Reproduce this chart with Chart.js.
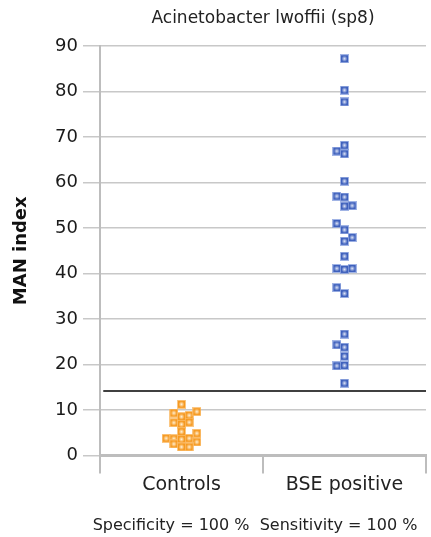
<!DOCTYPE html>
<html>
<head>
<meta charset="utf-8">
<script src="https://cdn.jsdelivr.net/npm/chart.js@4"></script>
<style>
  body { margin: 0; background: #fff; }
  canvas { display: block; }
</style>
</head>
<body>
<canvas id="chart" width="431" height="537"></canvas>
<script>
const categories = ["Controls", "BSE positive"];

// MAN index per animal, and the swarm column each dot sits in
const controlsValues = [11.25, 9.34, 8.53, 8.83, 9.63, 7.21, 6.86, 7.3, 5.23, 4.88, 3.78, 3.69, 3.56, 3.78, 2.97, 2.53, 1.87, 1.87];
const controlsCols = [0, -1, 0, 1, 2, -1, 0, 1, 0, 2, -2, -1, 0, 1, 2, -1, 0, 1];

const bseValues = [87.2, 80.3, 77.7, 68.2, 66.9, 66.3, 60.3, 57.0, 56.8, 54.8, 54.9, 51.0, 49.6, 47.9, 47.1, 43.8, 41.1, 40.9, 41.1, 36.9, 35.6, 26.7, 24.3, 23.8, 21.8, 19.7, 19.8, 15.9];
const bseCols = [0, 0, 0, 0, -1, 0, 0, -1, 0, 0, 1, -1, 0, 1, 0, 0, -1, 0, 1, -1, 0, 0, -1, 0, 0, -1, 0, 0];

const cutoff = 14.2;
const yMin = 0, yMax = 90, yStep = 10;
const footnote = "Specificity = 100 %  Sensitivity = 100 %";

const COL_STEP = 0.047;
const FONT = "'DejaVu Sans', sans-serif";

function toPoints(values, cols, catIndex) {
  return values.map((v, i) => ({ x: catIndex + cols[i] * COL_STEP, y: v }));
}

// small square marker with a lighter centre, like the original
function makeMarker(halo, core, light) {
  const c = document.createElement("canvas");
  c.width = 9;
  c.height = 9;
  const g = c.getContext("2d");
  g.fillStyle = halo;
  g.fillRect(0, 0, 9, 9);
  g.fillStyle = core;
  g.fillRect(1, 1, 7, 7);
  const grad = g.createRadialGradient(4.5, 4.5, 0, 4.5, 4.5, 3);
  grad.addColorStop(0, light);
  grad.addColorStop(1, core);
  g.fillStyle = grad;
  g.fillRect(2, 2, 5, 5);
  return c;
}

const orangeMarker = makeMarker("rgba(250,185,100,0.8)", "#f69a22", "#fff3dc");
const blueMarker = makeMarker("rgba(130,155,220,0.75)", "#3f61bd", "#e2e8f8");

const footnotePlugin = {
  id: "footnote",
  afterDraw(chart) {
    const ctx = chart.ctx;
    ctx.save();
    ctx.font = "16px " + FONT;
    ctx.fillStyle = "#222";
    ctx.textAlign = "center";
    ctx.textBaseline = "middle";
    ctx.fillText(footnote, 255, 526);
    ctx.restore();
  },
};

const ctx = document.getElementById("chart").getContext("2d");
new Chart(ctx, {
  type: "scatter",
  data: {
    datasets: [
      {
        label: "cutoff",
        data: [{ x: -0.48, y: cutoff }, { x: 1.5, y: cutoff }],
        showLine: true,
        borderColor: "#000",
        borderWidth: 1.5,
        pointRadius: 0,
        xAxisID: "x",
        yAxisID: "y",
      },
      {
        label: categories[0],
        data: toPoints(controlsValues, controlsCols, 0),
        pointStyle: orangeMarker,
        xAxisID: "x",
        yAxisID: "y",
      },
      {
        label: categories[1],
        data: toPoints(bseValues, bseCols, 1),
        pointStyle: blueMarker,
        xAxisID: "x",
        yAxisID: "y",
      },
    ],
  },
  options: {
    responsive: false,
    animation: false,
    layout: { padding: { left: 0, right: 2, top: 0, bottom: 0 } },
    plugins: {
      legend: { display: false },
      tooltip: { enabled: false },
      title: {
        display: true,
        text: "Acinetobacter lwoffii (sp8)",
        fullSize: false,
        color: "#222",
        font: { family: FONT, size: 17, weight: "normal" },
        padding: { top: 8, bottom: 17.6 },
      },
    },
    scales: {
      x: {
        type: "linear",
        min: -0.5,
        max: 1.5,
        display: false,
      },
      x2: {
        type: "category",
        labels: categories,
        position: "bottom",
        offset: true,
        grid: {
          offset: true,
          drawOnChartArea: false,
          tickLength: 18,
          color: "#bdbdbd",
          lineWidth: 2,
        },
        border: { color: "#bdbdbd", width: 3 },
        ticks: {
          color: "#222",
          font: { family: FONT, size: 19 },
          padding: 0,
        },
        afterFit(scale) {
          scale.height = 81.5;
        },
      },
      y: {
        min: yMin,
        max: yMax,
        ticks: {
          stepSize: yStep,
          color: "#1a1a1a",
          font: { family: FONT, size: 18 },
          padding: 5,
        },
        grid: {
          color: "#c8c8c8",
          lineWidth: 1.5,
          tickLength: 17,
        },
        border: { color: "#bdbdbd", width: 2 },
        title: {
          display: true,
          text: "MAN index",
          color: "#111",
          font: { family: FONT, size: 18, weight: "bold" },
          padding: { top: 11, bottom: 0 },
        },
        afterFit(scale) {
          scale.width = 100;
        },
      },
    },
  },
  plugins: [footnotePlugin],
});
</script>
</body>
</html>
